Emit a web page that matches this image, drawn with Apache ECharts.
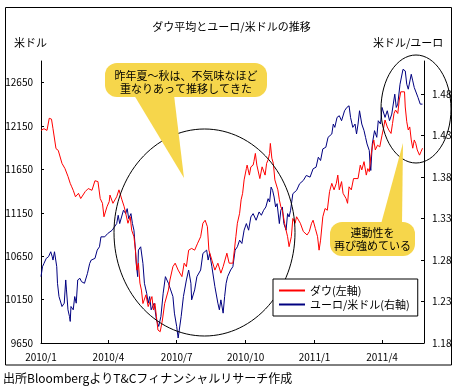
<!DOCTYPE html>
<html><head><meta charset="utf-8">
<script src="https://cdn.jsdelivr.net/npm/echarts@6/dist/echarts.min.js"></script>
<style>html,body{margin:0;padding:0;background:#fff}#c{width:463px;height:391px}</style>
</head><body><div id="c"></div>
<script>
const dowDates = ['2010-01-01','2010-01-05','2010-01-09','2010-01-12','2010-01-15','2010-01-17','2010-01-21','2010-01-24','2010-01-29','2010-02-02','2010-02-06','2010-02-09','2010-02-11','2010-02-13','2010-02-16','2010-02-20','2010-02-23','2010-03-01','2010-03-05','2010-03-10','2010-03-14','2010-03-18','2010-03-21','2010-03-24','2010-03-26','2010-03-30','2010-04-02','2010-04-03','2010-04-07','2010-04-12','2010-04-15','2010-04-19','2010-04-22','2010-04-24','2010-04-27','2010-04-30','2010-05-02','2010-05-05','2010-05-07','2010-05-09','2010-05-11','2010-05-13','2010-05-15','2010-05-17','2010-05-21','2010-05-24','2010-05-29','2010-05-31','2010-06-02','2010-06-04','2010-06-06','2010-06-09','2010-06-12','2010-06-15','2010-06-20','2010-06-22','2010-06-26','2010-06-29','2010-07-03','2010-07-08','2010-07-11','2010-07-14','2010-07-17','2010-07-21','2010-07-25','2010-07-29','2010-08-02','2010-08-05','2010-08-08','2010-08-11','2010-08-13','2010-08-17','2010-08-21','2010-08-25','2010-08-29','2010-09-01','2010-09-06','2010-09-09','2010-09-14','2010-09-16','2010-09-18','2010-09-20','2010-09-23','2010-09-25','2010-09-27','2010-09-29','2010-10-02','2010-10-03','2010-10-06','2010-10-08','2010-10-11','2010-10-12','2010-10-14','2010-10-16','2010-10-18','2010-10-20','2010-10-23','2010-10-25','2010-10-27','2010-10-29','2010-10-31','2010-11-02','2010-11-03','2010-11-05','2010-11-07','2010-11-09','2010-11-11','2010-11-13','2010-11-15','2010-11-17','2010-11-19','2010-11-22','2010-11-24','2010-11-26','2010-11-28','2010-12-01','2010-12-03','2010-12-06','2010-12-08','2010-12-13','2010-12-17','2010-12-22','2010-12-25','2010-12-28','2010-12-30','2011-01-02','2011-01-05','2011-01-07','2011-01-09','2011-01-12','2011-01-15','2011-01-18','2011-01-21','2011-01-24','2011-01-27','2011-01-30','2011-02-01','2011-02-03','2011-02-06','2011-02-08','2011-02-12','2011-02-14','2011-02-16','2011-02-19','2011-02-22','2011-02-24','2011-02-28','2011-03-03','2011-03-05','2011-03-08','2011-03-11','2011-03-13','2011-03-15','2011-03-17','2011-03-19','2011-03-21','2011-03-23','2011-03-26','2011-03-29','2011-04-01','2011-04-03','2011-04-05','2011-04-08','2011-04-10','2011-04-13','2011-04-15','2011-04-17','2011-04-19','2011-04-22','2011-04-24','2011-04-26','2011-05-01','2011-05-02','2011-05-04','2011-05-06','2011-05-08','2011-05-10','2011-05-12','2011-05-14','2011-05-16','2011-05-18','2011-05-21','2011-05-23','2011-05-25'];
const dowValues = [12100,12120,12100,12240,12230,12120,11890,11870,11720,11660,11570,11490,11450,11410,11335,11375,11315,11395,11430,11410,11520,11510,11315,11260,11105,11220,11280,11355,11260,11335,11415,11300,11220,11145,11030,11105,10950,10875,10720,10490,10570,10340,10260,10105,10205,10070,10185,10030,10105,9955,9800,9780,9915,10105,10260,10375,10530,10570,10490,10415,10570,10530,10720,10740,10720,10800,10875,11030,11065,10990,10720,10605,10490,10570,10455,10530,10685,10570,10570,10720,10875,11030,11145,11300,11375,11530,11660,11700,11585,11680,11700,11740,11835,11700,11720,11545,11680,11680,11585,11720,11760,11835,11950,11780,11720,11530,11510,11415,11300,11220,11180,11030,10950,10875,10760,10875,11085,11030,11105,11030,10935,10895,10935,11030,11065,10970,10875,10720,10835,11105,11200,11180,11395,11490,11415,11490,11585,11415,11510,11375,11315,11260,11450,11415,11545,11565,11545,11700,11645,11740,11585,11660,11625,11795,11910,11990,11875,11930,11910,12045,12125,12220,12140,12105,12065,12180,12295,12335,12295,12450,12545,12545,12370,12200,12105,12140,11990,11895,11990,11950,11875,11815,11855,11895];

const eurDates = ['2010-01-01','2010-01-03','2010-01-05','2010-01-08','2010-01-11','2010-01-14','2010-01-16','2010-01-17','2010-01-19','2010-01-22','2010-01-23','2010-01-25','2010-01-27','2010-01-29','2010-02-01','2010-02-03','2010-02-04','2010-02-06','2010-02-08','2010-02-09','2010-02-10','2010-02-13','2010-02-15','2010-02-17','2010-02-19','2010-02-22','2010-02-24','2010-02-28','2010-03-04','2010-03-07','2010-03-09','2010-03-14','2010-03-17','2010-03-20','2010-03-22','2010-03-27','2010-03-31','2010-04-06','2010-04-12','2010-04-14','2010-04-16','2010-04-21','2010-04-24','2010-04-26','2010-04-28','2010-05-01','2010-05-03','2010-05-05','2010-05-07','2010-05-08','2010-05-10','2010-05-11','2010-05-14','2010-05-17','2010-05-19','2010-05-22','2010-05-24','2010-05-26','2010-05-28','2010-06-01','2010-06-04','2010-06-07','2010-06-10','2010-06-13','2010-06-16','2010-06-20','2010-06-23','2010-06-26','2010-06-28','2010-07-01','2010-07-03','2010-07-05','2010-07-07','2010-07-10','2010-07-14','2010-07-17','2010-07-20','2010-07-21','2010-07-25','2010-07-28','2010-08-02','2010-08-05','2010-08-10','2010-08-12','2010-08-14','2010-08-17','2010-08-21','2010-08-25','2010-08-27','2010-08-29','2010-09-01','2010-09-03','2010-09-05','2010-09-07','2010-09-11','2010-09-14','2010-09-17','2010-09-20','2010-09-23','2010-09-26','2010-09-29','2010-10-02','2010-10-05','2010-10-08','2010-10-11','2010-10-15','2010-10-19','2010-10-22','2010-10-25','2010-10-28','2010-10-31','2010-11-02','2010-11-04','2010-11-06','2010-11-08','2010-11-10','2010-11-12','2010-11-15','2010-11-17','2010-11-19','2010-11-21','2010-11-24','2010-11-26','2010-11-28','2010-11-30','2010-12-03','2010-12-08','2010-12-12','2010-12-17','2010-12-21','2010-12-26','2010-12-30','2011-01-03','2011-01-06','2011-01-09','2011-01-12','2011-01-16','2011-01-19','2011-01-24','2011-01-26','2011-01-28','2011-01-31','2011-02-03','2011-02-06','2011-02-10','2011-02-13','2011-02-16','2011-02-18','2011-02-21','2011-02-24','2011-02-26','2011-02-28','2011-03-02','2011-03-05','2011-03-08','2011-03-10','2011-03-12','2011-03-15','2011-03-16','2011-03-17','2011-03-19','2011-03-22','2011-03-25','2011-03-27','2011-03-30','2011-04-01','2011-04-05','2011-04-08','2011-04-11','2011-04-14','2011-04-18','2011-04-20','2011-04-22','2011-04-25','2011-04-29','2011-05-02','2011-05-04','2011-05-06','2011-05-10','2011-05-12','2011-05-14','2011-05-16','2011-05-19','2011-05-22','2011-05-24','2011-05-25'];
const eurValues = [1.260,1.272,1.276,1.282,1.284,1.290,1.284,1.280,1.290,1.272,1.252,1.236,1.238,1.224,1.228,1.256,1.244,1.220,1.212,1.206,1.224,1.220,1.236,1.228,1.256,1.258,1.254,1.252,1.264,1.276,1.280,1.282,1.292,1.296,1.308,1.308,1.312,1.316,1.324,1.334,1.324,1.340,1.336,1.342,1.330,1.336,1.324,1.316,1.292,1.276,1.260,1.292,1.296,1.276,1.252,1.240,1.228,1.236,1.220,1.228,1.208,1.200,1.212,1.240,1.260,1.252,1.244,1.236,1.216,1.200,1.186,1.184,1.212,1.236,1.256,1.268,1.252,1.232,1.244,1.260,1.268,1.288,1.292,1.280,1.288,1.272,1.248,1.228,1.220,1.232,1.216,1.236,1.252,1.260,1.268,1.272,1.292,1.296,1.304,1.300,1.316,1.324,1.316,1.332,1.336,1.328,1.338,1.334,1.340,1.344,1.354,1.350,1.368,1.364,1.356,1.344,1.348,1.324,1.340,1.344,1.324,1.316,1.336,1.332,1.340,1.360,1.364,1.372,1.376,1.382,1.380,1.390,1.392,1.404,1.400,1.414,1.416,1.428,1.432,1.444,1.440,1.452,1.454,1.448,1.460,1.464,1.466,1.452,1.440,1.444,1.432,1.444,1.460,1.444,1.436,1.428,1.420,1.412,1.396,1.388,1.420,1.436,1.428,1.448,1.444,1.464,1.452,1.460,1.448,1.456,1.480,1.464,1.468,1.492,1.510,1.508,1.492,1.486,1.504,1.496,1.488,1.490,1.476,1.468,1.466,1.468];

const leftTicks = [9650, 10150, 10650, 11150, 11650, 12150, 12650];
const rightTicks = [1.18, 1.23, 1.28, 1.33, 1.38, 1.43, 1.48];
const xTickDates = ['2010-01-01','2010-04-01','2010-07-01','2010-10-01','2011-01-01','2011-04-01'];
const xTickLabels = ['2010/1','2010/4','2010/7','2010/10','2011/1','2011/4'];
const seriesNames = ['ダウ(左軸)', 'ユーロ/米ドル(右軸)'];
const xStart = '2010-01-01', xEnd = '2011-05-27';

// day number counted from xStart (calendar days)
function day(s){ const p = s.split('-').map(Number); return Math.round((Date.UTC(p[0], p[1]-1, p[2]) - Date.UTC(2010, 0, 1)) / 86400000); }
const xTickDays = xTickDates.map(day);
const FONT = "'Noto Sans CJK JP', sans-serif";
const YEL = '#F6D64B';

const chart = echarts.init(document.getElementById('c'));
chart.setOption({
  animation: false,
  backgroundColor: '#fff',
  textStyle: { fontFamily: FONT, color: '#000' },
  title: { text: 'ダウ平均とユーロ/米ドルの推移', left: 'center', top: 16,
    textStyle: { fontSize: 11, fontWeight: 'normal', color: '#000', fontFamily: FONT } },
  grid: { left: 41, right: 39, top: 61, bottom: 48 },
  legend: {
    data: seriesNames, orient: 'vertical', left: 273, top: 279, z: 10,
    backgroundColor: '#fff', borderColor: '#000', borderWidth: 1,
    padding: [5, 8, 5, 6], itemWidth: 26, itemHeight: 2, itemGap: 1, icon: 'rect',
    textStyle: { fontSize: 11, lineHeight: 13, color: '#000', fontFamily: FONT }
  },
  xAxis: {
    type: 'value', min: day(xStart), max: day(xEnd),
    axisLine: { lineStyle: { color: '#000', width: 1 } },
    axisTick: { show: true, inside: true, length: 3, customValues: xTickDays, lineStyle: { color: '#000' } },
    axisLabel: { customValues: xTickDays, fontSize: 10, color: '#000', margin: 9, fontFamily: FONT,
      formatter: function (v) { const i = xTickDays.indexOf(Math.round(v)); return i >= 0 ? xTickLabels[i] : ''; } },
    splitLine: { show: false }
  },
  yAxis: [
    { type: 'value', position: 'left', min: 9650, max: 12900, interval: 500,
      axisLine: { show: true, lineStyle: { color: '#000' } },
      axisTick: { show: true, inside: true, length: 3, customValues: leftTicks, lineStyle: { color: '#000' } },
      axisLabel: { customValues: leftTicks, fontSize: 10, color: '#000', margin: 8, fontFamily: FONT,
        formatter: function (v) { return String(Math.round(v)); } },
      splitLine: { show: false } },
    { type: 'value', position: 'right', min: 1.18, max: 1.52, interval: 0.05,
      axisLine: { show: true, lineStyle: { color: '#000' } },
      axisTick: { show: true, inside: true, length: 3, customValues: rightTicks, lineStyle: { color: '#000' } },
      axisLabel: { customValues: rightTicks, fontSize: 10, color: '#000', margin: 8, fontFamily: FONT,
        formatter: function (v) { return v.toFixed(2); } },
      splitLine: { show: false } }
  ],
  series: [
    { name: seriesNames[0], type: 'line', yAxisIndex: 0, symbol: 'none', z: 3,
      lineStyle: { color: '#FF0000', width: 1 }, itemStyle: { color: '#FF0000' },
      data: dowDates.map((d, i) => [day(d), dowValues[i]]) },
    { name: seriesNames[1], type: 'line', yAxisIndex: 1, symbol: 'none', z: 2,
      lineStyle: { color: '#000080', width: 1 }, itemStyle: { color: '#000080' },
      data: eurDates.map((d, i) => [day(d), eurValues[i]]) }
  ],
  graphic: [
    { type: 'rect', z: 1, shape: { x: 5.5, y: 7.5, width: 446, height: 357.5 }, style: { fill: 'none', stroke: '#000', lineWidth: 1 } },
    { type: 'text', z: 5, x: 14, y: 43, style: { text: '米ドル', fontSize: 11, fontFamily: FONT, fill: '#000', verticalAlign: 'middle' } },
    { type: 'text', z: 5, x: 373, y: 43, style: { text: '米ドル/ユーロ', fontSize: 11, fontFamily: FONT, fill: '#000', verticalAlign: 'middle' } },
    { type: 'text', z: 5, x: 3, y: 378, style: { text: '出所BloombergよりT&Cフィナンシャルリサーチ作成', fontSize: 12, fontFamily: FONT, fill: '#000', verticalAlign: 'middle' } },
    { type: 'ellipse', z: 6, shape: { cx: 204.5, cy: 232.5, rx: 90.5, ry: 103.5 }, style: { fill: 'none', stroke: '#000', lineWidth: 1 } },
    { type: 'ellipse', z: 6, shape: { cx: 416, cy: 109, rx: 35, ry: 54 }, style: { fill: 'none', stroke: '#000', lineWidth: 1 } },
    { type: 'polygon', z: 7, shape: { points: [[134, 95], [174, 95], [184, 178]] }, style: { fill: YEL } },
    { type: 'rect', z: 7, shape: { x: 105, y: 63, width: 162, height: 34, r: 12 }, style: { fill: YEL } },
    { type: 'text', z: 8, x: 186, y: 82.5, style: { text: '昨年夏～秋は、不気味なほど\n重なりあって推移してきた', fontSize: 11, lineHeight: 13, fontFamily: FONT, fill: '#000', align: 'center', verticalAlign: 'middle' } },
    { type: 'polygon', z: 7, shape: { points: [[403, 143], [381, 224], [402, 224]] }, style: { fill: YEL } },
    { type: 'rect', z: 7, shape: { x: 330, y: 222, width: 85, height: 34, r: 12 }, style: { fill: YEL } },
    { type: 'text', z: 8, x: 372.5, y: 239, style: { text: '連動性を\n再び強めている', fontSize: 11, lineHeight: 13, fontFamily: FONT, fill: '#000', align: 'center', verticalAlign: 'middle' } }
  ]
});
</script>
</body></html>
